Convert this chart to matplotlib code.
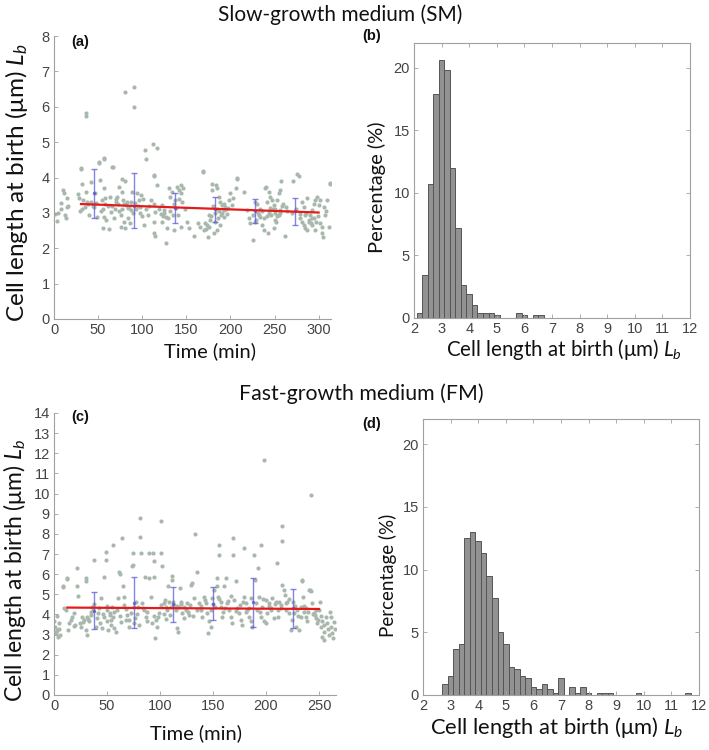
import matplotlib
matplotlib.use('Agg')
import matplotlib.pyplot as plt
import numpy as np

plt.rcParams['font.family'] = ['Liberation Sans', 'DejaVu Sans']
plt.rcParams['mathtext.fontset'] = 'custom'
plt.rcParams['mathtext.it'] = 'Lato:italic'
plt.rcParams['mathtext.rm'] = 'Lato'

# ---------------- data: slow-growth medium (SM) scatter ----------------
sm_time = [
    1, 5, 7.5, 8.3, 10, 11, 12.5, 14, 14.3, 15, 16, 3,
    27, 28.7, 31, 32, 32, 29.4, 37.7, 36.6, 36.6, 41.5, 45.3, 49, 51, 56.6, 51.7, 56.6, 57.7, 54.7, 55.5, 56.6,
    59, 55.8, 30.6, 51, 57, 38, 42, 47, 44, 33, 35, 40, 48, 53, 58, 36,
    61, 64, 67, 65, 68, 70, 71.7, 73.6, 76.6, 81, 77, 79, 80.4, 77, 75.5, 79, 75.5, 80, 83, 85,
    86.8, 83.8, 88.7, 91, 91, 94, 96, 99, 97.4, 100, 102, 102.6, 103.8, 65.7, 62, 66, 69, 72, 74, 78,
    82, 84, 87, 89, 92, 93, 95, 98, 101, 104, 106, 108, 70, 86,
    112.5, 117, 113, 109.4, 113, 117, 115, 113, 113, 114, 121, 122.6, 124.5, 126.4, 128.3, 127.5, 122.6, 130, 132, 134,
    136, 137.7, 139.6, 141.5, 143.4, 143.4, 140, 143.4, 136, 151, 152.8, 113, 119, 125, 131, 135, 138, 142, 145, 146,
    129, 123, 148,
    168.7, 158.5, 166, 169.8, 174.3, 173.5, 177, 175.5, 179.3, 179.3, 184, 184.8, 186.7, 188.6, 190.5, 192.4, 194.3, 196.2, 198, 200,
    203, 205.8, 207, 202, 192.4, 188.6, 184.8, 183, 181.2, 169, 207, 171, 176, 178, 182, 185, 187, 189, 191, 193,
    195, 197, 180, 186, 172, 163,
    215.1, 218.9, 220.8, 222.7, 225.7, 227.5, 230.2, 232, 234, 235.9, 237.8, 239.7, 240.8, 243.5, 245.4, 247.2, 249, 251, 252.8, 254.7,
    255.9, 257.4, 256.6, 254.7, 252, 249, 242.6, 261.5, 262.6, 229, 231, 233, 236, 238, 241, 244, 246, 248, 250, 253,
    258, 260, 226, 228, 242, 245, 251, 256, 264,
    271, 277.5, 279.3, 281.2, 283, 285, 287, 288.8, 290.7, 292.6, 294.5, 296.4, 298.3, 300, 302, 305.8, 307.7, 309.5, 311.4, 305,
    303.8, 312.5, 287, 283, 279.3, 292.6, 296.4, 276, 313, 270, 274, 284, 289, 291, 295, 299, 304, 308, 286, 293,
    297, 301, 281,
]
sm_length = [
    2.96, 3.0, 3.12, 3.28, 3.66, 3.57, 2.94, 2.86, 3.17, 3.41, 3.2, 2.77,
    3.53, 3.41, 4.23, 3.81, 3.12, 3.06, 3.31, 5.83, 5.74, 3.88, 3.17, 2.89, 4.42, 4.51, 3.92, 3.69, 3.41, 3.36, 3.12, 2.89,
    2.80, 2.56, 4.26, 4.45, 4.54, 3.25, 3.3, 3.55, 3.2, 3.35, 3.18, 2.95, 3.28, 3.05, 3.25, 3.6,
    3.19, 3.45, 4.30, 3.03, 2.85, 3.31, 3.45, 3.73, 3.96, 3.91, 3.59, 3.26, 6.41, 3.12, 2.94, 2.75, 2.61, 2.56, 3.31, 3.17,
    3.08, 2.85, 3.59, 5.99, 6.57, 3.55, 3.36, 3.5, 3.17, 2.91, 2.66, 4.77, 4.51, 4.3, 2.55, 3.2, 3.1, 3.25, 3.05, 3.35,
    3.22, 3.15, 3.3, 3.0, 3.28, 3.12, 3.2, 3.0, 3.4, 3.1, 2.95, 3.2, 3.38, 2.7,
    4.94, 4.82, 4.05, 3.36, 3.26, 3.78, 3.03, 2.75, 2.42, 2.35, 2.98, 3.22, 3.08, 2.89, 2.58, 2.15, 2.75, 3.69, 3.45, 3.59,
    3.26, 3.36, 3.73, 3.64, 3.55, 3.78, 2.94, 2.61, 2.51, 2.75, 2.56, 4.08, 3.1, 3.0, 3.05, 2.95, 3.15, 3.4, 3.3, 3.7,
    2.85, 2.9, 3.1,
    4.16, 2.35, 2.61, 2.51, 2.32, 2.66, 2.8, 2.94, 3.81, 3.64, 3.78, 3.69, 3.45, 3.31, 3.22, 3.08, 3.17, 2.98, 3.36, 3.55,
    3.41, 3.69, 3.96, 3.22, 2.89, 2.66, 2.51, 2.75, 2.42, 4.17, 4.0, 2.7, 2.6, 2.9, 3.0, 3.1, 3.05, 2.95, 3.0, 3.25,
    3.1, 3.15, 3.2, 2.85, 2.55, 2.7,
    3.59, 3.08, 2.85, 2.70, 2.23, 3.31, 3.26, 2.94, 2.89, 2.66, 2.51, 3.69, 3.73, 3.59, 3.45, 3.36, 3.22, 3.12, 3.36, 3.55,
    3.64, 3.91, 3.08, 2.94, 2.75, 2.58, 2.42, 2.35, 3.17, 2.8, 3.0, 3.1, 3.05, 2.85, 2.9, 3.0, 2.95, 3.1, 3.0, 2.9,
    3.2, 3.25, 2.95, 2.75, 3.3, 3.15, 2.8, 3.0, 3.05,
    3.91, 4.05, 2.85, 2.75, 2.66, 2.56, 2.51, 2.75, 2.94, 3.08, 3.26, 3.36, 3.45, 3.22, 3.36, 3.17, 2.94, 3.36, 2.61, 2.32,
    2.42, 3.81, 3.41, 3.17, 2.98, 2.66, 2.51, 4.09, 3.85, 3.0, 3.1, 2.95, 2.8, 2.7, 2.85, 2.9, 2.6, 3.05, 3.0, 2.85,
    2.75, 2.7, 3.3,
]
sm_bin_time = [45.6, 91.2, 136.8, 182.4, 228.0, 273.6]
sm_bin_mean = [3.55, 3.20, 3.14, 3.10, 3.05, 3.04]
sm_bin_low = [2.85, 2.57, 2.70, 2.74, 2.72, 2.66]
sm_bin_high = [4.24, 4.14, 3.56, 3.45, 3.38, 3.41]
sm_fit_time = [30.6, 300.0]
sm_fit_length = [3.25, 3.01]

# ---------------- data: SM histogram ----------------
sm_hist_left = [2.1 + 0.2 * i for i in range(23)]
sm_hist_pct = [0.4, 3.45, 10.7, 17.9, 20.6, 19.8, 12.0, 7.2, 2.65, 1.9, 1.0, 0.4,
               0.4, 0.4, 0.2, 0, 0, 0, 0.4, 0.2, 0, 0.2, 0.2]

# ---------------- data: fast-growth medium (FM) scatter ----------------
fm_time = [
    0, 1, 1.6, 3.1, 3.8, 2.5, 4.7, 8.8, 12, 9.4, 14.2, 13.2, 17.3, 18.9, 22, 22.6, 22, 24.5, 25.8, 26.7,
    28.3, 29.9, 30.8, 30, 30.5, 31.4, 33, 34.6, 36, 37.7, 37, 39.3, 40.3, 41.5, 43.4, 44, 2, 5, 6, 12.6,
    8.5, 16, 20, 27, 32, 35, 38, 42, 19, 11,
    45.6, 47.2, 48.7, 48.7, 47.2, 49.7, 50.3, 51.3, 52.8, 53.5, 55, 55.7, 56, 56.6, 58.2, 59.7, 60.4, 61.3, 64.5, 65.4,
    67.6, 66, 70.8, 72.3, 73.9, 74.8, 74.8, 75.5, 75.5, 77, 79.2, 81, 81, 82.4, 83.3, 85, 85.5, 86.5, 87.4, 89.6,
    89.6, 46, 50, 54, 57, 62, 63, 68, 69, 71, 76, 78, 80, 84, 88, 62, 66, 53,
    91.2, 93.7, 94.3, 94.3, 92.8, 95.3, 97.5, 99, 100.6, 101.3, 100.6, 102.2, 103.8, 105.3, 107, 107.5, 108.5, 109.4, 110, 111.6,
    113.2, 114.8, 115.7, 117, 118.9, 119.5, 121, 122.6, 124.2, 125.8, 127.4, 129, 130.5, 132, 133, 134.6, 135.2, 96, 98, 104,
    106, 112, 116, 120, 123, 126, 128, 131, 105, 118, 94, 111,
    136.8, 138.4, 140, 141.5, 143, 144.7, 146, 147.8, 145.3, 149.4, 151, 153.5, 154, 154.7, 155.7, 155.7, 157.2, 157.2, 158.8, 160.4,
    162, 163.5, 165, 166.7, 168.2, 169, 169, 169.8, 171.4, 173, 174.5, 176, 177.6, 179.2, 179.2, 180.8, 182.3, 183.9, 185.5, 187,
    188.7, 189.3, 139, 142, 148, 150, 152, 156, 159, 161, 164, 167, 172, 175, 178, 181, 184, 186,
    190.3, 191.8, 192.8, 193.4, 195, 195, 196.5, 198, 199.7, 201.3, 202.8, 204.4, 206, 207.5, 209, 210.7, 211.3, 212.3, 213.8, 215.4,
    215.4, 215.4, 217, 217.6, 218.6, 220.1, 221.7, 223.2, 224.8, 226.4, 228, 229.6, 231, 232.7, 234.3, 197.8, 194, 200, 203, 205,
    208, 214, 219, 222, 225, 227, 230, 233, 197, 211,
    235, 235.8, 237.4, 239, 240.5, 242, 242.7, 243.7, 245.3, 246.9, 248.4, 250, 251, 251.6, 253, 254.7, 256.3, 257.9, 259.4, 261,
    261.6, 253, 254.7, 241.5, 233.6, 238, 244, 247, 249, 252, 255, 258, 260, 262, 263, 264, 265, 236, 240, 246,
]
fm_length = [
    3.65, 3.4, 3.07, 3.23, 2.9, 3.9, 3.56, 5.39, 5.8, 4.31, 3.56, 3.23, 3.89, 4.06, 5.39, 4.92, 6.29, 3.56, 3.40, 3.89,
    3.73, 3.23, 2.98, 5.8, 5.64, 3.89, 3.65, 4.14, 4.39, 6.71, 4.23, 3.4, 3.81, 4.06, 3.56, 4.8, 3.15, 3.3, 3.0, 5.77,
    5.35, 3.7, 3.5, 3.6, 3.75, 3.95, 4.5, 4.3, 3.45, 4.2,
    3.31, 3.89, 7.12, 6.71, 5.88, 4.23, 3.65, 3.23, 4.06, 3.48, 4.39, 7.45, 3.89, 3.31, 3.15, 4.23, 4.80, 6.13, 7.77, 5.39,
    3.73, 4.89, 3.40, 4.06, 6.38, 6.46, 7.04, 4.39, 3.56, 4.64, 4.39, 8.78, 7.86, 7.04, 4.56, 4.23, 5.88, 3.89, 3.65, 7.04,
    5.80, 4.0, 4.4, 3.7, 4.1, 3.9, 3.6, 4.25, 3.95, 3.7, 3.8, 4.0, 3.5, 4.3, 4.1, 6.03, 4.45, 3.95,
    4.89, 7.04, 6.63, 5.88, 3.56, 2.82, 3.40, 4.06, 4.47, 8.62, 7.04, 6.38, 4.56, 4.39, 4.23, 5.39, 4.64, 3.98, 4.39, 5.72,
    4.47, 4.23, 3.31, 3.15, 5.30, 4.64, 4.06, 3.81, 4.23, 4.56, 3.98, 5.47, 5.55, 4.80, 7.99, 6.13, 4.23, 3.7, 3.85, 4.0,
    3.75, 4.6, 4.4, 4.5, 4.35, 4.1, 4.45, 3.9, 4.7, 4.35, 3.9, 5.93,
    4.56, 4.23, 3.89, 4.89, 4.56, 4.06, 3.65, 3.40, 3.10, 4.80, 5.22, 5.80, 5.39, 4.89, 7.45, 6.96, 4.64, 4.39, 3.89, 5.39,
    5.80, 4.56, 4.23, 3.89, 3.56, 7.77, 6.96, 4.72, 5.64, 4.31, 4.06, 3.73, 3.48, 7.28, 4.89, 4.56, 4.23, 3.89, 3.65, 3.40,
    6.96, 5.72, 4.4, 4.7, 4.2, 4.5, 4.35, 4.75, 4.1, 4.3, 4.65, 4.9, 4.15, 4.45, 4.6, 4.1, 4.3, 4.8,
    4.56, 4.23, 6.29, 4.89, 7.45, 3.89, 4.39, 3.65, 3.56, 4.06, 4.56, 4.31, 4.80, 3.81, 4.64, 6.54, 3.89, 4.64, 4.47, 8.37,
    7.67, 5.47, 5.22, 4.97, 4.23, 4.64, 4.06, 3.23, 3.73, 4.06, 3.40, 4.23, 3.23, 3.89, 5.72, 11.68, 4.1, 4.7, 4.4, 4.2,
    4.5, 4.3, 4.55, 4.75, 4.6, 4.4, 3.9, 4.35, 4.75, 4.2,
    4.89, 4.14, 3.89, 3.65, 5.22, 9.94, 5.14, 4.56, 4.06, 3.81, 3.56, 4.23, 4.64, 3.40, 3.65, 3.15, 3.89, 3.56, 2.98, 3.89,
    3.40, 2.90, 2.73, 5.22, 5.68, 4.3, 4.0, 4.2, 3.7, 3.9, 3.5, 3.3, 4.1, 3.1, 2.85, 3.6, 3.3, 4.4, 4.1, 3.95,
]
fm_bin_time = [37.5, 75.0, 112.5, 150.0, 187.5, 225.0]
fm_bin_mean = [4.17, 4.59, 4.50, 4.52, 4.60, 4.31]
fm_bin_low = [3.26, 3.33, 3.60, 3.70, 3.40, 3.31]
fm_bin_high = [5.10, 5.85, 5.38, 5.35, 5.80, 5.27]
fm_fit_time = [12.6, 250.0]
fm_fit_length = [4.34, 4.27]

# ---------------- data: FM histogram ----------------
fm_hist_left = [2.7 + 0.2 * i for i in range(45)]
fm_hist_pct = [0.88, 1.54, 3.67, 4.06, 12.5, 13.0, 12.3, 11.3, 9.5, 7.7,
               5.05, 4.04, 2.26, 2.1, 1.54, 1.35, 0.66, 0.48, 0.85, 0.5,
               0.16, 1.35, 0, 0.66, 0.16, 0.66, 0.16, 0, 0.16, 0.16,
               0.16, 0, 0, 0, 0, 0.16, 0, 0, 0, 0,
               0, 0, 0, 0, 0.16]

assert len(sm_time) == len(sm_length)
assert len(fm_time) == len(fm_length)

# ---------------- styling ----------------
W, H = 709, 750
SCAT = '#a9b8ac'
RED = '#e41a1c'
BLUE = '#5b5bd6'
BAR = '#929292'
BAREDGE = '#555555'
SPINE = '#a0a0a0'
TICKLAB = '#444444'
LABFONT = 'Lato'
LABCOL = '#111111'


def ax_rect(x0, y0, x1, y1):
    return [x0 / W, 1 - y1 / H, (x1 - x0) / W, (y1 - y0) / H]


def style(ax, box):
    ax.spines['top'].set_visible(box)
    ax.spines['right'].set_visible(box)
    for s in ax.spines.values():
        s.set_color(SPINE)
        s.set_linewidth(0.8)
    ax.tick_params(direction='in', length=3, width=0.6, color=SPINE,
                   labelcolor=TICKLAB, labelsize=10.5, top=box, right=box, pad=3)


def label(ax, xl, yl, xsize, ysize, xc, yc, ylc_x, ylc_y):
    ax.set_xlabel(xl, fontsize=xsize, fontfamily=LABFONT, color=LABCOL, va='center', ha='center')
    ax.set_ylabel(yl, fontsize=ysize, fontfamily=LABFONT, color=LABCOL, va='center', ha='center')
    ax.xaxis.set_label_coords(xc, yc)
    ax.yaxis.set_label_coords(ylc_x, ylc_y)


fig = plt.figure(figsize=(W / 100, H / 100), dpi=100)

ylab = 'Cell length at birth (μm) $L_b$'


def errbars(ax, t, mean, low, high):
    mean = np.array(mean)
    ax.errorbar(t, mean, yerr=[mean - np.array(low), np.array(high) - mean],
                fmt='.', ms=3, color=BLUE, ecolor=BLUE, elinewidth=1.0, capsize=2.5,
                capthick=1.0, alpha=0.75, zorder=2)


# (a)
ax = fig.add_axes(ax_rect(54, 36, 331, 319))
ax.scatter(sm_time, sm_length, s=9, color=SCAT, linewidths=0, zorder=1)
errbars(ax, sm_bin_time, sm_bin_mean, sm_bin_low, sm_bin_high)
ax.plot(sm_fit_time, sm_fit_length, color=RED, lw=1.6, zorder=3)
ax.set_xlim(0, 314)
ax.set_ylim(0, 8)
ax.set_xticks([0, 50, 100, 150, 200, 250, 300])
ax.set_yticks(range(0, 9))
style(ax, False)
label(ax, 'Time (min)', ylab, 14.5, 17.5, (210 - 54) / 277, (319 - 351) / 283, (17 - 54) / 277, (319 - 183) / 283)

# (b)
ax = fig.add_axes(ax_rect(414, 43, 690, 318))
ax.bar(sm_hist_left, sm_hist_pct, width=0.2, align='edge', color=BAR, edgecolor=BAREDGE, linewidth=0.7)
ax.set_xlim(2, 12)
ax.set_ylim(0, 22)
ax.set_xticks(range(2, 13))
ax.set_yticks([0, 5, 10, 15, 20])
style(ax, True)
label(ax, 'Cell length at birth (μm) $L_b$', 'Percentage (%)', 14.8, 14.5,
      (564 - 414) / 276, (318 - 350) / 275, (377 - 414) / 276, (318 - 187) / 275)

# (c)
ax = fig.add_axes(ax_rect(54, 413, 336, 695))
ax.scatter(fm_time, fm_length, s=9, color=SCAT, linewidths=0, zorder=1)
errbars(ax, fm_bin_time, fm_bin_mean, fm_bin_low, fm_bin_high)
ax.plot(fm_fit_time, fm_fit_length, color=RED, lw=1.6, zorder=3)
ax.set_xlim(0, 266)
ax.set_ylim(0, 14)
ax.set_xticks([0, 50, 100, 150, 200, 250])
ax.set_yticks(range(0, 15))
style(ax, False)
label(ax, 'Time (min)', ylab, 14.5, 16.5, (196 - 54) / 282, (695 - 733) / 282, (15 - 54) / 282, (695 - 570) / 282)

# (d)
ax = fig.add_axes(ax_rect(423, 419, 699, 695))
ax.bar(fm_hist_left, fm_hist_pct, width=0.2, align='edge', color=BAR, edgecolor=BAREDGE, linewidth=0.7)
ax.set_xlim(2, 12)
ax.set_ylim(0, 22)
ax.set_xticks(range(2, 13))
ax.set_yticks([0, 5, 10, 15, 20])
style(ax, True)
label(ax, 'Cell length at birth (μm) $L_b$', 'Percentage (%)', 15.8, 13.5,
      (557 - 423) / 276, (695 - 728) / 276, (388 - 423) / 276, (695 - 575) / 276)

# titles and panel letters
fig.text(340 / W, 1 - 15 / H, 'Slow-growth medium (SM)', ha='center', va='center',
         fontsize=15, fontfamily=LABFONT, color=LABCOL)
fig.text(361 / W, 1 - 394 / H, 'Fast-growth medium (FM)', ha='center', va='center',
         fontsize=15.3, fontfamily=LABFONT, color=LABCOL)
for txt, x, y in [('(a)', 71, 42), ('(b)', 362, 36), ('(c)', 71, 417), ('(d)', 362, 424)]:
    fig.text(x / W, 1 - y / H, txt, ha='left', va='center', fontsize=10.5, fontweight='bold', color=LABCOL)

fig.savefig('out.png', dpi=100)
